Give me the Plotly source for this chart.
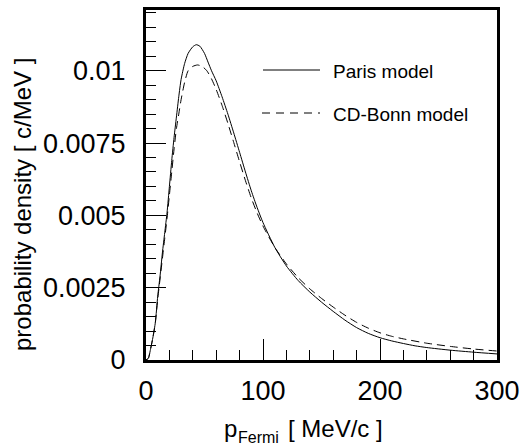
import plotly.graph_objects as go

# Paris model (solid)
p_paris = [0, 2, 4, 6, 8, 10, 12, 14, 16, 18, 20, 22, 24, 26, 28, 30, 33, 36, 40, 43, 46, 50, 53,
           56, 60, 65, 70, 75, 80, 85, 90, 95, 100, 110, 120, 130, 140, 150, 160, 170, 180,
           190, 200, 210, 220, 230, 240, 260, 280, 300]
v_paris = [0, 0.00006, 0.0004, 0.0008, 0.0013, 0.0022, 0.0029, 0.0037, 0.0044, 0.0051, 0.0060,
           0.0069, 0.0077, 0.0084, 0.0091, 0.0097, 0.01025, 0.0106, 0.01083, 0.0109, 0.01085,
           0.0106, 0.0103, 0.0100, 0.00965, 0.0091, 0.0085, 0.00785, 0.00718, 0.0065, 0.00585,
           0.00527, 0.00475, 0.0039, 0.00325, 0.00275, 0.00235, 0.0020, 0.00168, 0.00138, 0.00112,
           0.00092, 0.00077, 0.00066, 0.00057, 0.00049, 0.00043, 0.00034, 0.00027, 0.00021]

# CD-Bonn model (dashed)
p_bonn = [0, 2, 4, 6, 8, 10, 12, 14, 16, 18, 20, 22, 24, 26, 28, 30, 33, 36, 40, 44, 48, 52,
          56, 60, 65, 70, 75, 80, 85, 90, 95, 100, 110, 120, 130, 140, 150, 160, 170, 180,
          190, 200, 210, 220, 240, 260, 280, 300]
v_bonn = [0, 0.00006, 0.0004, 0.0008, 0.0013, 0.0021, 0.0028, 0.0035, 0.0042, 0.0049, 0.0057,
          0.0065, 0.0073, 0.0080, 0.0085, 0.0090, 0.0096, 0.0100, 0.01015, 0.0102, 0.01015,
          0.0100, 0.00972, 0.00935, 0.0088, 0.00818, 0.00752, 0.00685, 0.0062, 0.0056, 0.00508,
          0.00463, 0.0039, 0.00332, 0.00285, 0.00246, 0.00213, 0.00183, 0.00155, 0.0013,
          0.0011, 0.00094, 0.00082, 0.00073, 0.00058, 0.00047, 0.00038, 0.00031]

series_names = ["Paris model", "CD-Bonn model"]
x_title_main = "p"
x_title_sub = "Fermi"
x_title_unit = "[ MeV/c ]"
y_title = "probability density [ c/MeV ]"
y_tickvals = [0, 0.0025, 0.005, 0.0075, 0.01]
y_ticktext = ["0", "0.0025", "0.005", "0.0075", "0.01"]
x_tickvals = [0, 100, 200, 300]
x_ticktext = ["0", "100", "200", "300"]

FONT = "Liberation Sans, Arial, Helvetica, sans-serif"
W, H = 521, 445
L, R, T, B = 146, 24, 10, 85
PW, PH = W - L - R, H - T - B


def px(xp):
    return (xp - L) / PW


def py(yp):
    return (H - B - yp) / PH


fig = go.Figure()
fig.add_trace(go.Scatter(x=p_paris, y=v_paris, mode="lines", name=series_names[0],
                         line=dict(color="black", width=1, shape="spline", smoothing=0.6),
                         showlegend=False))
fig.add_trace(go.Scatter(x=p_bonn, y=v_bonn, mode="lines", name=series_names[1],
                         line=dict(color="black", width=1, dash="8px,5px", shape="spline",
                                   smoothing=0.6),
                         showlegend=False))

# legend samples
fig.add_shape(type="line", xref="paper", yref="paper", x0=px(263), x1=px(320), y0=py(70), y1=py(70),
              line=dict(color="black", width=1))
fig.add_shape(type="line", xref="paper", yref="paper", x0=px(262), x1=px(320), y0=py(113), y1=py(113),
              line=dict(color="black", width=1, dash="8px,6px"))
fig.add_annotation(text=series_names[0], xref="paper", yref="paper", x=px(331), y=py(71),
                   xanchor="left", yanchor="middle", showarrow=False,
                   font=dict(family=FONT, size=19, color="black"))
fig.add_annotation(text=series_names[1], xref="paper", yref="paper", x=px(331), y=py(114),
                   xanchor="left", yanchor="middle", showarrow=False,
                   font=dict(family=FONT, size=19, color="black"))

# axis titles
fig.add_annotation(text=y_title, xref="paper", yref="paper", x=px(22), y=py(205),
                   xanchor="center", yanchor="middle", textangle=-90, showarrow=False,
                   font=dict(family=FONT, size=24, color="black"))
fig.add_annotation(text=x_title_main, xref="paper", yref="paper", x=px(222), y=py(428),
                   xanchor="left", yanchor="middle", showarrow=False,
                   font=dict(family=FONT, size=24, color="black"))
fig.add_annotation(text=x_title_sub, xref="paper", yref="paper", x=px(236), y=py(437),
                   xanchor="left", yanchor="middle", showarrow=False,
                   font=dict(family=FONT, size=16, color="black"))
fig.add_annotation(text=x_title_unit, xref="paper", yref="paper", x=px(286), y=py(428),
                   xanchor="left", yanchor="middle", showarrow=False,
                   font=dict(family=FONT, size=24, color="black"))

fig.update_xaxes(range=[0, 300], showline=True, linewidth=3, linecolor="black", mirror=True,
                 showgrid=False, zeroline=False, ticks="inside", ticklen=21, tickwidth=1,
                 tickcolor="black", tickmode="array", tickvals=x_tickvals, ticktext=x_ticktext,
                 tickfont=dict(family=FONT, size=27, color="black"), ticklabelstandoff=5,
                 minor=dict(tick0=0, dtick=20, ticks="inside", ticklen=10, tickwidth=1,
                            tickcolor="black", showgrid=False))
fig.update_yaxes(range=[0, 0.0121], showline=True, linewidth=3, linecolor="black", mirror=True,
                 showgrid=False, zeroline=False, ticks="inside", ticklen=20, tickwidth=1,
                 tickcolor="black", tickmode="array", tickvals=y_tickvals, ticktext=y_ticktext,
                 tickfont=dict(family=FONT, size=27, color="black"), ticklabelstandoff=12,
                 minor=dict(tick0=0, dtick=0.0005, ticks="inside", ticklen=10, tickwidth=1,
                            tickcolor="black", showgrid=False))

fig.update_layout(width=W, height=H, margin=dict(l=L, r=R, t=T, b=B, autoexpand=False),
                  paper_bgcolor="white", plot_bgcolor="white", showlegend=False)

fig.write_html("out.html")
